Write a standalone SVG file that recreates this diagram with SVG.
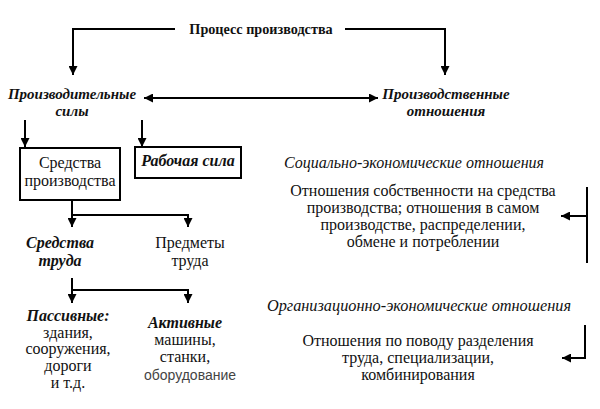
<svg xmlns="http://www.w3.org/2000/svg" width="600" height="409" viewBox="0 0 600 409">
<defs>
<marker id="ah" viewBox="0 0 10 10" refX="10" refY="5" markerWidth="9" markerHeight="9" markerUnits="userSpaceOnUse" orient="auto-start-reverse">
<path d="M0,0 L10,5 L0,10 z" fill="#000"/>
</marker>
<style>
text{fill:#111;font-size:16px;font-family:"Liberation Serif","Times New Roman",serif}
.c{text-anchor:middle}
.bi{font-weight:bold;font-style:italic}
.it{font-style:italic}
.b{font-weight:bold}
.s15{font-size:15px}
.t{font-size:14.2px}
.o{font-size:16.3px}
.sans{fill:#444;font-size:14px;font-family:"Liberation Sans",Arial,sans-serif}
.ln{fill:none;stroke:#000;stroke-width:2}
.bx{fill:#fff;stroke:#000;stroke-width:2}
</style>
</defs>
<g id="connectors">
<path class="ln" d="M175,29 H73 V75" marker-end="url(#ah)"/>
<path class="ln" d="M345,29 H445 V75" marker-end="url(#ah)"/>
<path class="ln" d="M144,98 H378" marker-start="url(#ah)" marker-end="url(#ah)"/>
<path class="ln" d="M25,120 V147" marker-end="url(#ah)"/>
<path class="ln" d="M142,120 V147" marker-end="url(#ah)"/>
<path class="ln" d="M72,200 V227" marker-end="url(#ah)"/>
<path class="ln" d="M72,215 H188 V227" marker-end="url(#ah)"/>
<path class="ln" d="M72,278 V303" marker-end="url(#ah)"/>
<path class="ln" d="M72,290 H188 V303" marker-end="url(#ah)"/>
<path class="ln" d="M587,187 V263"/>
<path class="ln" d="M587,216 H561" marker-end="url(#ah)"/>
<path class="ln" d="M585,325 V358 H562" marker-end="url(#ah)"/>
</g>
<g id="process"><text class="c b t" x="261" y="34">Процесс производства</text></g>
<g id="prod-forces"><text class="c bi s15" x="72" y="99">Производительные</text><text class="c bi s15" x="72" y="116">силы</text></g>
<g id="prod-relations"><text class="c bi s15" x="446" y="99">Производственные</text><text class="c bi s15" x="446" y="116">отношения</text></g>
<g id="means-production"><rect class="bx" x="20" y="148" width="100" height="52"/><text class="c" x="70" y="168">Средства</text><text class="c" x="70" y="186">производства</text></g>
<g id="labour-force"><rect class="bx" x="135" y="147" width="106" height="31"/><text class="c bi" x="188" y="166">Рабочая сила</text></g>
<g id="means-labour"><text class="c bi" x="60" y="248">Средства</text><text class="c bi" x="60" y="266">труда</text></g>
<g id="objects-labour"><text class="c" x="190" y="248">Предметы</text><text class="c" x="190" y="266">труда</text></g>
<g id="passive"><text class="c bi" x="68" y="321">Пассивные:</text><text class="c" x="68" y="338">здания,</text><text class="c" x="68" y="354">сооружения,</text><text class="c" x="68" y="371">дороги</text><text class="c" x="68" y="388">и т.д.</text></g>
<g id="active"><text class="c bi" x="185" y="328">Активные</text><text class="c" x="185" y="345">машины,</text><text class="c" x="185" y="362">станки,</text><text class="sans c" x="190" y="380">оборудование</text></g>
<g id="socio-econ"><text class="c it" x="414" y="168">Социально-экономические отношения</text></g>
<g id="socio-text"><text class="c" x="423" y="196">Отношения собственности на средства</text><text class="c" x="423" y="213">производства; отношения в самом</text><text class="c" x="423" y="230">производстве, распределении,</text><text class="c" x="423" y="247">обмене и потреблении</text></g>
<g id="org-econ"><text class="c it o" x="419" y="311">Организационно-экономические отношения</text></g>
<g id="org-text"><text class="c" x="418" y="346">Отношения по поводу разделения</text><text class="c" x="418" y="363">труда, специализации,</text><text class="c" x="418" y="380">комбинирования</text></g>
</svg>
